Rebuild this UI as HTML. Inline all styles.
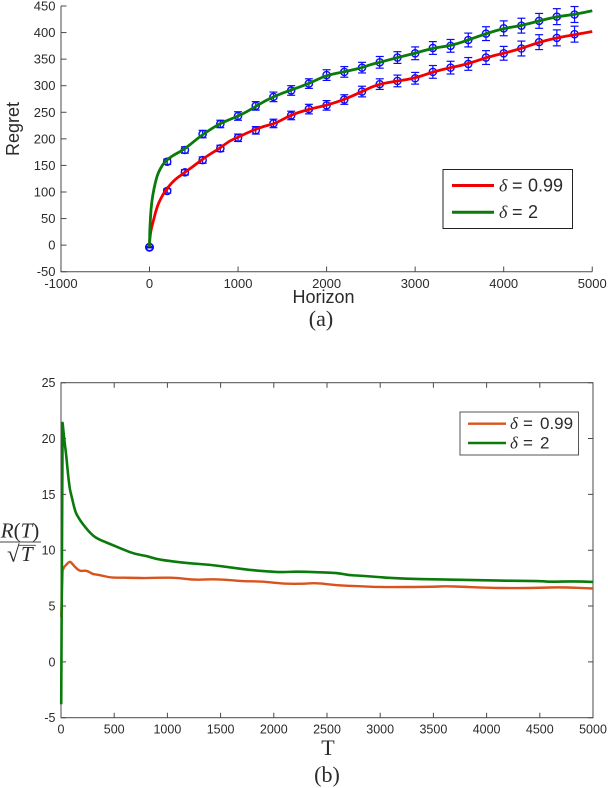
<!DOCTYPE html>
<html>
<head>
<meta charset="utf-8">
<title>Regret charts</title>
<style>
html,body{margin:0;padding:0;background:#fff;}
svg{display:block;filter:blur(0.3px);}
text{font-family:"Liberation Sans",sans-serif;fill:#2b2b2b;}
.serif{font-family:"Liberation Serif",serif;}
</style>
</head>
<body>
<svg id="fig" width="608" height="788" viewBox="0 0 608 788" xmlns="http://www.w3.org/2000/svg">
  <g id="chartA"></g>
  <g id="chartB"></g>

  <text x="0" y="0" transform="translate(19,129) rotate(-90)" text-anchor="middle" font-size="18">Regret</text>
  <text x="323.5" y="303" text-anchor="middle" font-size="18">Horizon</text>
  <text class="serif" x="321" y="326" text-anchor="middle" font-size="22" fill="#111">(a)</text>

  <g>
    <rect x="443" y="169.5" width="129.5" height="59" fill="#fff" stroke="#222" stroke-width="1"/>
    <line x1="452" x2="494" y1="185.5" y2="185.5" stroke="#f00000" stroke-width="3"/>
    <text class="serif" x="499" y="191.5" font-size="18" font-style="italic">δ</text>
    <text x="512" y="191.5" font-size="18">=</text>
    <text x="528" y="191.5" font-size="18" fill="#111">0.99</text>
    <line x1="452" x2="494" y1="212.3" y2="212.3" stroke="#0a7a0a" stroke-width="3"/>
    <text class="serif" x="499" y="218" font-size="18" font-style="italic">δ</text>
    <text x="512" y="218" font-size="18">=</text>
    <text x="528" y="218" font-size="18" fill="#111">2</text>
  </g>

  <g>
    <text class="serif" x="20" y="537.5" text-anchor="middle" font-size="21" fill="#333"><tspan font-style="italic">R</tspan>(<tspan font-style="italic">T</tspan>)</text>
    <line x1="0" x2="41" y1="542" y2="542" stroke="#444" stroke-width="1"/>
    <text class="serif" x="7" y="561.5" font-size="23" fill="#333">√</text>
    <line x1="19" x2="36" y1="545.3" y2="545.3" stroke="#444" stroke-width="0.9"/>
    <text class="serif" x="21" y="561" font-size="21" font-style="italic" fill="#333">T</text>
  </g>
  <text class="serif" x="328" y="755" text-anchor="middle" font-size="22" fill="#333">T</text>
  <text class="serif" x="327" y="782" text-anchor="middle" font-size="22" fill="#111">(b)</text>

  <g id="legendB">
    <rect x="460" y="412" width="118.5" height="43" fill="#fff" stroke="#555" stroke-width="1"/>
    <line x1="468" x2="506" y1="423.7" y2="423.7" stroke="#d9531e" stroke-width="2.4"/>
    <text class="serif" x="510" y="429" font-size="17" font-style="italic">δ</text>
    <text x="523" y="429" font-size="17">=</text>
    <text x="540" y="429" font-size="17" fill="#111">0.99</text>
    <line x1="468" x2="506" y1="443" y2="443" stroke="#0a7a0a" stroke-width="2.4"/>
    <text class="serif" x="510" y="448.5" font-size="17" font-style="italic">δ</text>
    <text x="523" y="448.5" font-size="17">=</text>
    <text x="540" y="448.5" font-size="17" fill="#111">2</text>
  </g>
</svg>
<script>
// ---- Chart (a) data ----
const aXTicks = [-1000, 0, 1000, 2000, 3000, 4000, 5000];
const aYTicks = [-50, 0, 50, 100, 150, 200, 250, 300, 350, 400, 450];
const aHorizon = [0, 200, 400, 600, 800, 1000, 1200, 1400, 1600, 1800, 2000, 2200, 2400, 2600, 2800, 3000, 3200, 3400, 3600, 3800, 4000, 4200, 4400, 4600, 4800];
const aRedMean = [-4, 102, 137, 160, 182, 202, 216, 229, 244, 256, 263, 274, 289, 303, 309, 314, 326, 334, 341, 353, 361, 370, 382, 390, 397];
const aGreenMean = [-4, 157, 179, 209, 228, 243, 262, 279, 291, 304, 320, 326, 334, 344, 353, 361, 371, 375, 386, 398, 408, 413, 422, 430, 434];
const aRedErr = [1, 4, 5, 6, 6, 7, 7, 8, 8, 9, 9, 9, 10, 10, 11, 11, 12, 12, 12, 13, 13, 14, 14, 15, 15];
const aGreenErr = [1, 5, 6, 7, 7, 8, 8, 9, 9, 9, 10, 10, 10, 11, 11, 12, 12, 12, 13, 13, 14, 14, 14, 15, 15];
const aLineT = [0, 3, 10, 25, 50, 75, 100, 150, 200, 250, 300, 400, 500, 600, 700, 800, 900, 1000, 1100, 1200, 1300, 1400, 1500, 1600, 1800, 2000, 2200, 2400, 2500, 2600, 2800, 3000, 3200, 3400, 3600, 3800, 4000, 4200, 4400, 4600, 4800, 5000];
const aRedLine = [-3, 10, 22, 34, 50, 66, 78, 95, 107, 117, 125, 137, 149, 162, 173, 183, 196, 203, 211, 218, 224, 228, 236, 245, 256, 263, 274, 289, 297, 303, 309, 314, 326, 334, 341, 353, 361, 370, 382, 390, 396, 402];
const aGreenLine = [-3, 25, 52, 82, 106, 124, 137, 152, 161, 167, 172, 181, 195, 208, 219, 229, 236, 243, 251, 261, 271, 279, 286, 292, 304, 320, 326, 334, 340, 344, 353, 361, 371, 375, 386, 398, 408, 413, 422, 430, 434, 441];

// ---- Chart (b) data ----
const bXTicks = [0, 500, 1000, 1500, 2000, 2500, 3000, 3500, 4000, 4500, 5000];
const bYTicks = [-5, 0, 5, 10, 15, 20, 25];
const bGreenT = [2, 15, 30, 50, 75, 100, 135, 165, 200, 250, 300, 350, 400, 500, 600, 700, 800, 900, 1000, 1200, 1400, 1600, 1800, 2000, 2100, 2200, 2400, 2600, 2700, 2800, 3000, 3250, 3500, 3750, 4000, 4250, 4500, 4600, 4800, 5000];
const bGreenVal = [-3.8, 21.4, 20, 18.4, 15.8, 14.8, 13.4, 12.9, 12.4, 11.8, 11.3, 11, 10.8, 10.4, 10, 9.64, 9.5, 9.2, 9.05, 8.83, 8.7, 8.45, 8.2, 8.06, 8.03, 8.09, 8.03, 7.97, 7.76, 7.73, 7.58, 7.43, 7.4, 7.34, 7.31, 7.25, 7.25, 7.16, 7.22, 7.16];
const bOrangeT = [2, 15, 30, 50, 80, 100, 130, 180, 230, 270, 300, 350, 450, 500, 700, 800, 950, 1100, 1250, 1400, 1550, 1700, 1900, 2100, 2300, 2400, 2600, 2800, 3000, 3500, 3600, 3800, 4000, 4300, 4500, 4700, 5000];
const bOrangeVal = [4, 8.2, 8.5, 8.7, 9, 8.87, 8.5, 8.1, 8.2, 8.03, 7.85, 7.8, 7.58, 7.55, 7.52, 7.5, 7.55, 7.52, 7.34, 7.4, 7.37, 7.22, 7.2, 6.98, 7, 7.07, 6.84, 6.78, 6.69, 6.72, 6.78, 6.72, 6.63, 6.6, 6.63, 6.69, 6.57];

const NS = 'http://www.w3.org/2000/svg';
function make(tag, attrs, parent, txt) {
  const el = document.createElementNS(NS, tag);
  for (const k in attrs) el.setAttribute(k, attrs[k]);
  if (txt !== undefined) el.textContent = txt;
  parent.appendChild(el);
  return el;
}
// straight segments up to index `k`, then quadratic smoothing through segment midpoints
function pathFrom(xs, ys, fx, fy, k) {
  const px = xs.map(fx), py = ys.map(fy);
  let d = 'M' + px[0].toFixed(2) + ' ' + py[0].toFixed(2);
  for (let i = 1; i < px.length; i++) {
    if (i <= k || i === px.length - 1) {
      d += 'L' + px[i].toFixed(2) + ' ' + py[i].toFixed(2);
    } else {
      const mx = (px[i] + px[i + 1]) / 2, my = (py[i] + py[i + 1]) / 2;
      d += 'Q' + px[i].toFixed(2) + ' ' + py[i].toFixed(2) + ' ' + mx.toFixed(2) + ' ' + my.toFixed(2);
    }
  }
  return d;
}

// axis functions
const ax = v => 149.5 + (v / 1000) * 88.55;
const ay = v => 271.7 - (v + 50) * 0.5314;
const bx = v => 61 + (v / 5000) * 532;
const by = v => 717.7 - (v + 5) * 11.167;

const A = document.getElementById('chartA');
const B = document.getElementById('chartB');
const axisColor = '#4a4a4a';

// ---- Chart (a) axes ----
const aAxes = make('path', {d: 'M61 6V271.7H592.3', fill: 'none', stroke: axisColor, 'stroke-width': 1}, A);


aXTicks.forEach(t => {
  const tick = make('line', {x1: ax(t), x2: ax(t), y1: 271.7, y2: 266.5, stroke: axisColor, 'stroke-width': 1}, A);
  
  
  const lab = make('text', {x: ax(t), y: 288, 'text-anchor': 'middle', 'font-size': 13}, A, String(t));
  
  
});
aYTicks.forEach(t => {
  const tick = make('line', {x1: 61, x2: 66.5, y1: ay(t), y2: ay(t), stroke: axisColor, 'stroke-width': 1}, A);
  
  
  const lab = make('text', {x: 55.5, y: ay(t) + 4.5, 'text-anchor': 'end', 'font-size': 13}, A, String(t));
  
  
});

// ---- Chart (a) error bars ----
function drawErrors(means, errs, nm) {
  aHorizon.forEach((h, i) => {
    const g = make('g', {stroke: '#0a0aff', fill: 'none', 'stroke-width': 1.2}, A);
    
    
    const x = ax(h), hi = ay(means[i] + errs[i]), lo = ay(means[i] - errs[i]);
    make('line', {x1: x, x2: x, y1: hi, y2: lo}, g);
    make('line', {x1: x - 4, x2: x + 4, y1: hi, y2: hi}, g);
    make('line', {x1: x - 4, x2: x + 4, y1: lo, y2: lo}, g);
    make('circle', {cx: x, cy: ay(means[i]), r: 3.6, 'stroke-width': h === 0 ? 1.7 : 1.4}, g);
  });
}
drawErrors(aRedMean, aRedErr, 'error-bar-red-series');
drawErrors(aGreenMean, aGreenErr, 'error-bar-green-series');

const aRed = make('path', {d: pathFrom(aLineT, aRedLine, ax, ay, 1), fill: 'none', stroke: '#f00000', 'stroke-width': 2.8, 'stroke-linejoin': 'round'}, A);


const aGreen = make('path', {d: pathFrom(aLineT, aGreenLine, ax, ay, 1), fill: 'none', stroke: '#0a7a0a', 'stroke-width': 2.8, 'stroke-linejoin': 'round'}, A);



// ---- Chart (b) ----
const bFrame = make('rect', {x: 61, y: 382.7, width: 532, height: 335, fill: 'none', stroke: axisColor, 'stroke-width': 1}, B);


bXTicks.forEach(t => {
  const tick = make('path', {d: 'M' + bx(t) + ' 717.7v-5M' + bx(t) + ' 382.7v5', stroke: axisColor, 'stroke-width': 1, fill: 'none'}, B);
  
  
  const lab = make('text', {x: bx(t), y: 733.5, 'text-anchor': 'middle', 'font-size': 12.5}, B, String(t));
  
  
});
bYTicks.forEach(t => {
  const tick = make('path', {d: 'M61 ' + by(t) + 'h5M593 ' + by(t) + 'h-5', stroke: axisColor, 'stroke-width': 1, fill: 'none'}, B);
  
  
  const lab = make('text', {x: 55.5, y: by(t) + 4.5, 'text-anchor': 'end', 'font-size': 12.5}, B, String(t));
  
  
});
const bOrange = make('path', {d: pathFrom(bOrangeT, bOrangeVal, bx, by, 2), fill: 'none', stroke: '#d9531e', 'stroke-width': 2.4, 'stroke-linejoin': 'round'}, B);


const bGreen = make('path', {d: pathFrom(bGreenT, bGreenVal, bx, by, 3), fill: 'none', stroke: '#0a7a0a', 'stroke-width': 2.6, 'stroke-linejoin': 'round'}, B);


</script>
</body>
</html>
